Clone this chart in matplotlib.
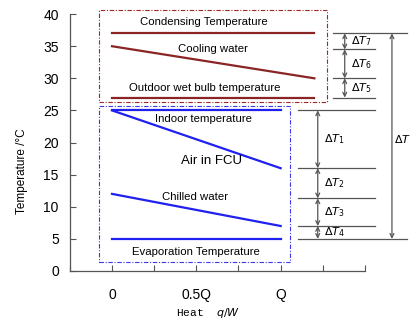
import numpy as np
import matplotlib
matplotlib.use("Agg")
import matplotlib.pyplot as plt
from matplotlib.patches import Rectangle

# hot side (red) lines: x start/end, temperature start/end
hot_names = ["Condensing Temperature", "Cooling water", "Outdoor wet bulb temperature"]
hot_x = [0, 1.2]
hot_t0 = [37, 35, 27]
hot_t1 = [37, 30, 27]

# cold side (blue) lines
cold_names = ["Indoor temperature", "Air in FCU", "Chilled water", "Evaporation Temperature"]
cold_x = [0, 1.0]
cold_t0 = [25, 25, 12, 5]
cold_t1 = [25, 16, 7, 5]

# temperature difference levels
dt_hot_levels = [37, 34.5, 30, 27]
dt_hot_labels = [r"$\Delta T_7$", r"$\Delta T_6$", r"$\Delta T_5$"]
dt_cold_levels = [25, 16, 11.3, 7, 5]
dt_cold_labels = [r"$\Delta T_1$", r"$\Delta T_2$", r"$\Delta T_3$", r"$\Delta T_4$"]

xticks = [-0.25, 0, 0.25, 0.5, 0.75, 1.0, 1.25, 1.5]
xticklabels = ["", "0", "", "0.5Q", "", "Q", "", ""]

plt.rcParams['font.family'] = ['Liberation Sans', 'DejaVu Sans']
plt.rcParams['mathtext.fontset'] = 'dejavusans'

red = "#8B2525"
blue = "#2020F0"
grey = "#555555"

fig = plt.figure(figsize=(4.11, 3.21), dpi=100)
ax = fig.add_axes([0.170, 0.156, 0.718, 0.800])

for i in range(3):
    ax.plot(hot_x, [hot_t0[i], hot_t1[i]], color=red, lw=1.6, clip_on=False)
for i in range(4):
    ax.plot(cold_x, [cold_t0[i], cold_t1[i]], color=blue, lw=1.6, clip_on=False)

tkw = dict(fontsize=8.2, ha="center", va="center")
ax.text(0.545, 38.7, hot_names[0], **tkw)
ax.text(0.60, 34.5, hot_names[1], **tkw)
ax.text(0.55, 28.5, hot_names[2], **tkw)
ax.text(0.54, 23.6, cold_names[0], **tkw)
ax.text(0.59, 17.1, cold_names[1], fontsize=9.5, ha="center", va="center")
ax.text(0.49, 11.5, cold_names[2], **tkw)
ax.text(0.50, 3.0, cold_names[3], **tkw)

# dash-dot boxes
ax.add_patch(Rectangle((-0.077, 26.3), 1.353, 14.3, fill=False, ec="#A02828",
                       ls=(0, (4, 1.5, 1, 1.5)), lw=0.8, clip_on=False))
ax.add_patch(Rectangle((-0.077, 1.4), 1.133, 24.3, fill=False, ec="#3A3AE8",
                       ls=(0, (4, 1.5, 1, 1.5)), lw=0.8, clip_on=False))

# right side difference marks
lk = dict(color=grey, lw=0.9, clip_on=False)
ax.plot([1.31, 1.75], [dt_hot_levels[0]] * 2, **lk)
for lv in dt_hot_levels[1:]:
    ax.plot([1.31, 1.56], [lv, lv], **lk)
for lv in dt_cold_levels[:-1]:
    ax.plot([1.10, 1.56], [lv, lv], **lk)
ax.plot([1.10, 1.75], [dt_cold_levels[-1]] * 2, **lk)

ak = dict(arrowstyle="<->", color=grey, lw=0.9, shrinkA=0, shrinkB=0,
          mutation_scale=7)
for i in range(3):
    ax.annotate("", xy=(1.38, dt_hot_levels[i]), xytext=(1.38, dt_hot_levels[i + 1]),
                arrowprops=ak, annotation_clip=False)
    ax.text(1.42, (dt_hot_levels[i] + dt_hot_levels[i + 1]) / 2, dt_hot_labels[i],
            fontsize=8, ha="left", va="center")
for i in range(4):
    ax.annotate("", xy=(1.22, dt_cold_levels[i]), xytext=(1.22, dt_cold_levels[i + 1]),
                arrowprops=ak, annotation_clip=False)
    ax.text(1.26, (dt_cold_levels[i] + dt_cold_levels[i + 1]) / 2, dt_cold_labels[i],
            fontsize=8, ha="left", va="center")
ax.annotate("", xy=(1.66, dt_hot_levels[0]), xytext=(1.66, dt_cold_levels[-1]),
            arrowprops=ak, annotation_clip=False)
ax.text(1.675, 20.5, r"$\Delta T$", fontsize=8, ha="left", va="center")

ax.set_xlim(-0.25, 1.5)
ax.set_ylim(0, 40)
ax.set_xticks(xticks)
ax.set_xticklabels(xticklabels)
ax.set_yticks(range(0, 41, 5))
ax.tick_params(direction="in", length=4, width=0.8, color=grey, labelsize=10)
ax.tick_params(axis="x", pad=12)
ax.tick_params(axis="y", pad=8)
for s in ["top", "right"]:
    ax.spines[s].set_visible(False)
for s in ["left", "bottom"]:
    ax.spines[s].set_color(grey)
    ax.spines[s].set_linewidth(0.9)

ax.set_ylabel("Temperature /°C", fontsize=8.5, va="center")
ax.yaxis.set_label_coords(-0.163, 0.39)
ax.set_xlabel(r"Heat  $q/W$", fontsize=8, va="center", family=['Liberation Mono', 'DejaVu Sans'])
ax.xaxis.set_label_coords(0.47, -0.163)

fig.savefig("out.png", dpi=100)
